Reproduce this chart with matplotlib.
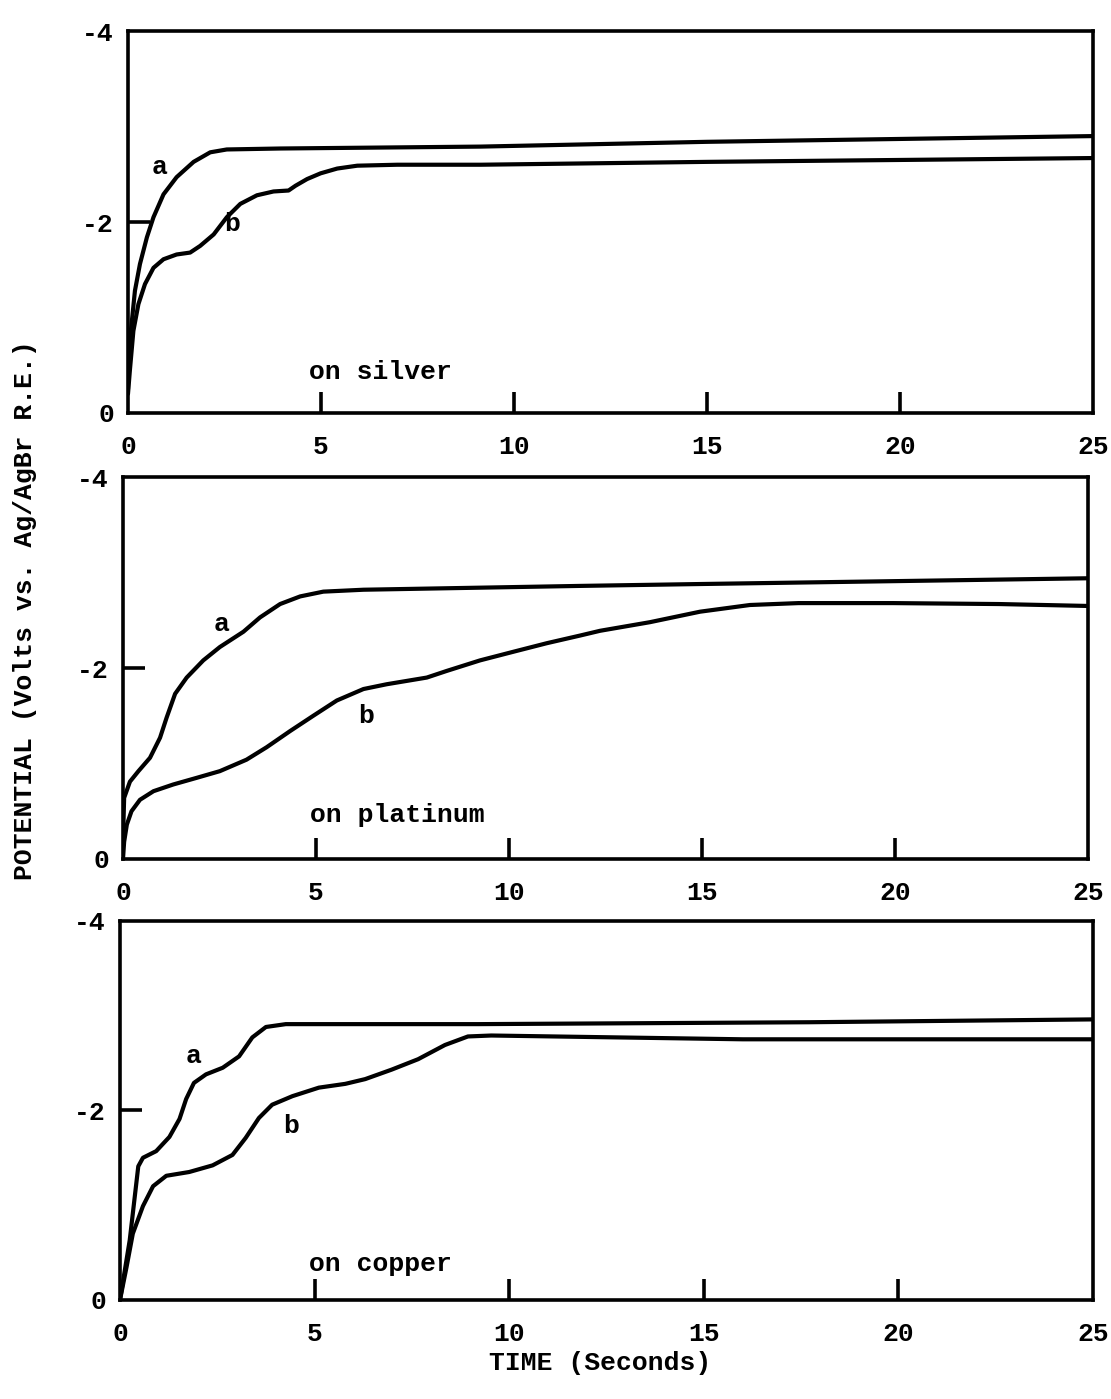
import matplotlib
matplotlib.use("Agg")
import matplotlib.pyplot as plt

# ---------------- data ----------------
# Panel 1: on silver
silver_a_t = [0, 0.01, 0.1, 0.18, 0.31, 0.49, 0.66, 0.92, 1.26, 1.7, 2.13, 2.56, 3.95, 9.14, 15, 20, 25]
silver_a_v = [-0.25, -0.61, -0.96, -1.28, -1.56, -1.84, -2.05, -2.29, -2.47, -2.63, -2.73, -2.76, -2.77, -2.79, -2.84, -2.87, -2.9]
silver_b_t = [0, 0.05, 0.14, 0.27, 0.44, 0.66, 0.92, 1.26, 1.61, 1.87, 2.22, 2.56, 2.91, 3.34, 3.77, 4.16,
              4.34, 4.64, 4.99, 5.42, 5.94, 6.98, 9.14, 15, 20, 25]
silver_b_v = [-0.2, -0.45, -0.86, -1.14, -1.35, -1.52, -1.61, -1.66, -1.68, -1.75, -1.87, -2.05, -2.19, -2.28, -2.32, -2.33,
              -2.38, -2.45, -2.51, -2.56, -2.59, -2.60, -2.60, -2.63, -2.65, -2.67]

# Panel 2: on platinum
plat_a_t = [0, 0.03, 0.18, 0.4, 0.7, 0.96, 1.13, 1.35, 1.65, 2.08, 2.51, 3.12, 3.55, 4.07, 4.59, 5.19, 6.23, 11.84, 15, 20, 25]
plat_a_v = [-0.2, -0.64, -0.81, -0.92, -1.06, -1.27, -1.48, -1.73, -1.90, -2.08, -2.22, -2.38, -2.53, -2.67, -2.75, -2.80, -2.82, -2.86, -2.88, -2.91, -2.94]
plat_b_t = [0, 0.03, 0.1, 0.22, 0.44, 0.79, 1.3, 1.91, 2.51, 3.2, 3.72, 4.33, 4.93, 5.54, 6.23, 6.83, 7.87, 8.39, 9.25,
            10.11, 10.98, 11.84, 12.36, 13.65, 14.95, 16.24, 17.5, 19.95, 22.7, 25]
plat_b_v = [0, -0.18, -0.36, -0.5, -0.62, -0.71, -0.78, -0.85, -0.92, -1.04, -1.17, -1.34, -1.5, -1.66, -1.78, -1.83, -1.9, -1.97, -2.08,
            -2.17, -2.26, -2.34, -2.39, -2.48, -2.59, -2.66, -2.68, -2.68, -2.67, -2.65]

# Panel 3: on copper
copper_a_t = [0, 0.25, 0.47, 0.59, 0.93, 1.27, 1.53, 1.7, 1.9, 2.21, 2.64, 3.06, 3.4, 3.75, 4.26, 9.2, 17.7, 25]
copper_a_v = [0, -0.63, -1.41, -1.5, -1.57, -1.72, -1.91, -2.12, -2.29, -2.38, -2.45, -2.57, -2.77, -2.88, -2.91, -2.91, -2.93, -2.96]
copper_b_t = [0, 0.17, 0.33, 0.59, 0.85, 1.19, 1.78, 2.38, 2.89, 3.23, 3.57, 3.91, 4.43, 5.11, 5.79, 6.3, 6.98, 7.66,
              8.35, 8.94, 9.54, 16, 25]
copper_b_v = [0, -0.35, -0.70, -0.99, -1.2, -1.31, -1.35, -1.42, -1.53, -1.71, -1.92, -2.06, -2.15, -2.24, -2.28, -2.33, -2.43, -2.54,
              -2.69, -2.78, -2.79, -2.75, -2.75]

panel_names = ["on silver", "on platinum", "on copper"]
x_tick_values = [0, 5, 10, 15, 20, 25]
x_tick_labels = ["0", "5", "10", "15", "20", "25"]
x_marked_ticks = [5, 10, 15, 20]
y_tick_values = [-4, -2, 0]
y_tick_labels = ["-4", "-2", "0"]
y_marked_ticks = [-2]
y_label = "POTENTIAL (Volts vs. Ag/AgBr R.E.)"
x_label = "TIME (Seconds)"

series = [
    (silver_a_t, silver_a_v, silver_b_t, silver_b_v),
    (plat_a_t, plat_a_v, plat_b_t, plat_b_v),
    (copper_a_t, copper_a_v, copper_b_t, copper_b_v),
]
# label positions (data coords) for curve names and panel captions
a_label_pos = [(0.83, -2.58), (2.56, -2.46), (1.9, -2.57)]
b_label_pos = [(2.69, -1.98), (6.31, -1.5), (4.39, -1.83)]
name_pos = [(4.68, -0.43), (4.84, -0.46), (4.85, -0.38)]

# ---------------- drawing ----------------
FONT = "Liberation Mono"
FS = 19
plt.rcParams["font.family"] = [FONT, "DejaVu Sans"]
plt.rcParams["font.weight"] = "bold"

fig = plt.figure(figsize=(11.11, 13.99), dpi=100)
rects = [
    [0.1152, 0.7048, 0.8686, 0.2730],
    [0.1107, 0.3860, 0.8686, 0.2730],
    [0.1080, 0.0708, 0.8758, 0.2710],
]

for i, rect in enumerate(rects):
    ax = fig.add_axes(rect)
    ta, va, tb, vb = series[i]
    ax.plot(ta, va, color="black", lw=3.0, solid_joinstyle="round", solid_capstyle="round")
    ax.plot(tb, vb, color="black", lw=3.0, solid_joinstyle="round", solid_capstyle="round")
    ax.set_xlim(0, 25)
    ax.set_ylim(0, -4)
    for s in ax.spines.values():
        s.set_linewidth(2.6)
        s.set_color("black")
    ax.xaxis.remove_overlapping_locs = False
    ax.yaxis.remove_overlapping_locs = False
    ax.set_xticks(x_tick_values)
    ax.set_xticklabels(x_tick_labels)
    ax.set_yticks(y_tick_values)
    ax.set_yticklabels(y_tick_labels)
    ax.tick_params(axis="x", which="major", length=0, pad=16, labelsize=FS)
    ax.tick_params(axis="y", which="major", length=0, pad=10, labelsize=FS)
    ax.set_xticks(x_marked_ticks, minor=True)
    ax.set_yticks(y_marked_ticks, minor=True)
    ax.tick_params(axis="x", which="minor", direction="in", length=15, width=2.6)
    ax.tick_params(axis="y", which="minor", direction="in", length=16, width=2.6)
    ax.text(*a_label_pos[i], "a", fontsize=FS, ha="center", va="center")
    ax.text(*b_label_pos[i], "b", fontsize=FS, ha="center", va="center")
    ax.text(*name_pos[i], panel_names[i], fontsize=FS, ha="left", va="center")

fig.text(0.0225, 0.564, y_label, rotation=90, fontsize=FS, ha="center", va="center")
fig.text(0.540, 0.0257, x_label, fontsize=FS, ha="center", va="center")

fig.savefig("out.png", dpi=100)
